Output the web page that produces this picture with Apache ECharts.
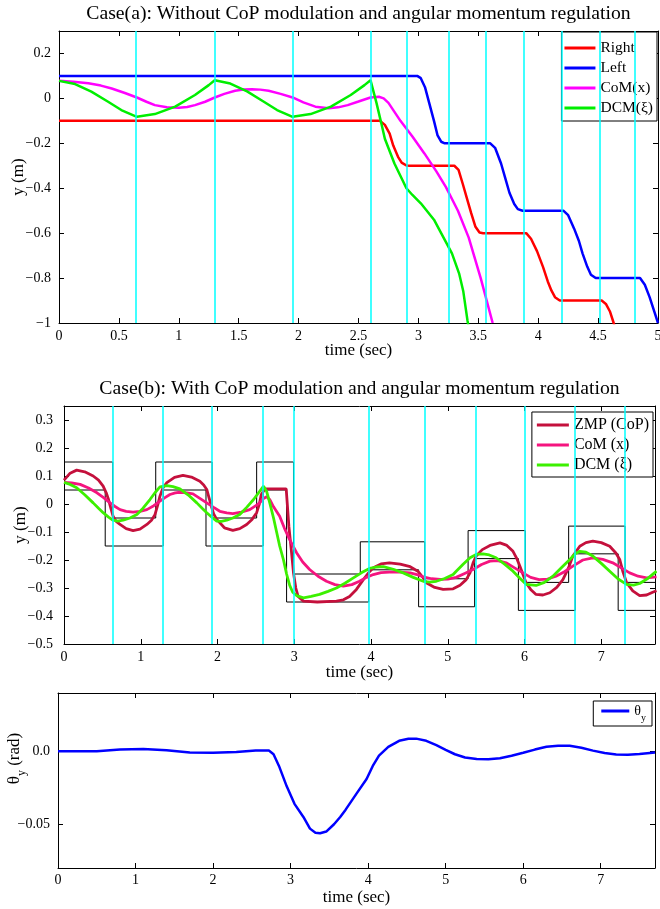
<!DOCTYPE html>
<html>
<head>
<meta charset="utf-8">
<script src="https://cdn.jsdelivr.net/npm/echarts@6/dist/echarts.min.js"></script>
<style>
  html, body { margin: 0; background: #fff; }
  #chart { width: 660px; height: 909px; }
</style>
</head>
<body>
<div id="chart"></div>
<script>
// ---------- Case (a) ----------
const stepTimesA = [0.643, 1.299, 1.949, 2.6, 2.9, 3.249, 3.565, 3.885, 4.2, 4.513, 4.812]
const rightA = [[0,-0.1],[2.68,-0.1],[2.72,-0.118],[2.76,-0.157],[2.79,-0.21],[2.83,-0.26],[2.86,-0.286],[2.9,-0.299],[2.93,-0.3],
  [3.3,-0.3],[3.335,-0.318],[3.37,-0.38],[3.405,-0.445],[3.44,-0.51],[3.475,-0.57],[3.51,-0.597],[3.54,-0.6],
  [3.9,-0.6],[3.94,-0.625],[3.99,-0.68],[4.04,-0.75],[4.08,-0.815],[4.11,-0.855],[4.14,-0.885],[4.18,-0.9],
  [4.53,-0.9],[4.565,-0.915],[4.6,-0.95],[4.63,-1.0],[4.65,-1.04]]
const leftA = [[0,0.1],[2.99,0.1],[3.02,0.09],[3.055,0.05],[3.09,-0.02],[3.13,-0.1],[3.16,-0.165],[3.19,-0.193],[3.22,-0.2],
  [3.6,-0.2],[3.64,-0.22],[3.69,-0.29],[3.725,-0.355],[3.76,-0.42],[3.8,-0.47],[3.83,-0.493],[3.87,-0.5],
  [4.21,-0.5],[4.25,-0.52],[4.3,-0.58],[4.34,-0.635],[4.37,-0.69],[4.41,-0.75],[4.44,-0.785],[4.48,-0.8],
  [4.85,-0.8],[4.89,-0.83],[4.93,-0.885],[4.97,-0.95],[5.0,-1.0]]
const comA = [[0,0.078],[0.12,0.074],[0.245,0.067],[0.35,0.057],[0.44,0.044],[0.55,0.024],[0.65,0.004],[0.73,-0.015],
  [0.8,-0.03],[0.9,-0.039],[1.0,-0.042],[1.07,-0.038],[1.135,-0.03],[1.22,-0.015],[1.3,0.004],[1.38,0.02],[1.47,0.034],
  [1.54,0.04],[1.61,0.041],[1.68,0.039],[1.75,0.034],[1.85,0.02],[1.95,0.004],[2.04,-0.018],[2.14,-0.037],[2.25,-0.044],
  [2.33,-0.04],[2.41,-0.03],[2.5,-0.014],[2.6,0.004],[2.67,0.007],[2.71,0.0],[2.75,-0.02],[2.8,-0.06],[2.85,-0.1],
  [2.95,-0.17],[3.05,-0.245],[3.15,-0.325],[3.23,-0.395],[3.33,-0.5],[3.42,-0.62],[3.52,-0.8],[3.62,-1.0]]
const dcmA = [[0,0.078],[0.134,0.064],[0.27,0.03],[0.41,-0.015],[0.52,-0.052],[0.65,-0.082],[0.8,-0.07],[0.97,-0.037],
  [1.135,0.015],[1.25,0.059],[1.3,0.081],[1.43,0.066],[1.57,0.031],[1.71,-0.015],[1.82,-0.052],[1.95,-0.082],
  [2.1,-0.07],[2.27,-0.037],[2.435,0.015],[2.55,0.059],[2.6,0.081],[2.65,-0.02],[2.69,-0.11],[2.72,-0.18],
  [2.8,-0.29],[2.9,-0.4],[2.95,-0.43],[3.02,-0.467],[3.13,-0.54],[3.21,-0.62],[3.28,-0.69],[3.34,-0.78],
  [3.375,-0.86],[3.41,-0.99],[3.42,-1.02]]

// ---------- Case (b) ----------
const stepTimesB = [0.635, 1.29, 1.93, 2.59, 2.99, 3.97, 4.7, 5.36, 6.0, 6.66, 7.31]
const upperB = [[0,0.15],[0.635,0.15],[0.635,-0.05],[1.195,-0.05],[1.195,0.15],[1.93,0.15],[1.93,-0.05],[2.51,-0.05],
  [2.51,0.15],[2.99,0.15],[2.99,-0.25],[3.86,-0.25],[3.86,-0.135],[4.7,-0.135],[4.7,-0.267],[5.265,-0.267],
  [5.265,-0.095],[6.01,-0.095],[6.01,-0.28],[6.575,-0.28],[6.575,-0.079],[7.31,-0.079],[7.31,-0.28],[7.7,-0.28]]
const lowerB = [[0,0.05],[0.537,0.05],[0.537,-0.15],[1.293,-0.15],[1.293,0.05],[1.85,0.05],[1.85,-0.15],[2.595,-0.15],
  [2.595,0.05],[2.9,0.05],[2.9,-0.35],[3.97,-0.35],[3.97,-0.235],[4.62,-0.235],[4.62,-0.367],[5.35,-0.367],
  [5.35,-0.195],[5.92,-0.195],[5.92,-0.38],[6.66,-0.38],[6.66,-0.178],[7.22,-0.178],[7.22,-0.38],[7.7,-0.38]]
const zmpB = [[0,0.085],[0.08,0.11],[0.165,0.121],[0.27,0.115],[0.38,0.1],[0.45,0.085],[0.51,0.064],[0.55,0.04],
  [0.58,0.016],[0.61,-0.015],[0.64,-0.044],[0.68,-0.062],[0.73,-0.073],[0.81,-0.088],[0.9,-0.095],[0.99,-0.09],
  [1.08,-0.073],[1.14,-0.058],[1.185,-0.038],[1.22,-0.005],[1.25,0.028],[1.29,0.058],[1.34,0.076],[1.44,0.095],
  [1.55,0.102],[1.66,0.096],[1.77,0.081],[1.82,0.068],[1.86,0.052],[1.89,0.022],[1.92,-0.008],[1.95,-0.035],
  [1.99,-0.055],[2.09,-0.085],[2.2,-0.094],[2.29,-0.088],[2.38,-0.073],[2.45,-0.055],[2.51,-0.031],[2.545,0.0],
  [2.57,0.034],[2.62,0.054],[2.895,0.054],[2.93,-0.08],[2.96,-0.16],[2.99,-0.246],[3.02,-0.3],[3.05,-0.33],
  [3.12,-0.347],[3.3,-0.35],[3.55,-0.347],[3.64,-0.342],[3.72,-0.33],[3.81,-0.305],[3.9,-0.27],[3.97,-0.245],
  [4.03,-0.228],[4.13,-0.214],[4.24,-0.21],[4.38,-0.215],[4.51,-0.224],[4.61,-0.24],[4.67,-0.26],[4.72,-0.281],
  [4.83,-0.298],[4.94,-0.305],[5.07,-0.303],[5.16,-0.29],[5.24,-0.27],[5.29,-0.246],[5.33,-0.21],[5.37,-0.186],
  [5.45,-0.163],[5.55,-0.148],[5.68,-0.139],[5.77,-0.148],[5.85,-0.169],[5.9,-0.195],[5.94,-0.222],[6.02,-0.281],
  [6.08,-0.305],[6.15,-0.323],[6.24,-0.325],[6.33,-0.317],[6.42,-0.298],[6.5,-0.27],[6.57,-0.23],[6.63,-0.186],
  [6.72,-0.151],[6.8,-0.138],[6.89,-0.133],[7.0,-0.138],[7.11,-0.151],[7.19,-0.175],[7.24,-0.198],[7.28,-0.24],
  [7.33,-0.281],[7.41,-0.31],[7.5,-0.327],[7.59,-0.325],[7.67,-0.315],[7.72,-0.31]]
const comB = [[0,0.077],[0.1,0.075],[0.21,0.07],[0.32,0.057],[0.43,0.04],[0.52,0.022],[0.6,0.004],[0.66,-0.008],
  [0.73,-0.02],[0.81,-0.026],[0.9,-0.029],[0.99,-0.026],[1.08,-0.02],[1.17,-0.006],[1.25,0.01],[1.31,0.022],
  [1.38,0.034],[1.45,0.04],[1.51,0.042],[1.6,0.04],[1.68,0.036],[1.77,0.02],[1.86,0.004],[1.95,-0.012],
  [2.03,-0.026],[2.12,-0.032],[2.2,-0.034],[2.31,-0.029],[2.42,-0.02],[2.5,-0.006],[2.55,0.004],[2.6,0.02],
  [2.64,0.026],[2.68,0.016],[2.73,-0.01],[2.81,-0.044],[2.87,-0.085],[2.94,-0.127],[3.03,-0.174],[3.11,-0.207],
  [3.2,-0.234],[3.31,-0.258],[3.42,-0.276],[3.53,-0.288],[3.64,-0.293],[3.75,-0.288],[3.85,-0.276],[3.94,-0.262],
  [4.03,-0.252],[4.13,-0.245],[4.24,-0.243],[4.38,-0.243],[4.51,-0.246],[4.6,-0.252],[4.68,-0.26],[4.79,-0.267],
  [4.9,-0.269],[5.0,-0.268],[5.11,-0.262],[5.22,-0.248],[5.33,-0.234],[5.44,-0.216],[5.55,-0.204],[5.65,-0.202],
  [5.76,-0.21],[5.87,-0.228],[5.98,-0.246],[6.08,-0.262],[6.19,-0.27],[6.3,-0.268],[6.41,-0.258],[6.52,-0.242],
  [6.63,-0.222],[6.76,-0.2],[6.89,-0.192],[7.02,-0.198],[7.15,-0.21],[7.26,-0.228],[7.37,-0.246],[7.48,-0.258],
  [7.59,-0.264],[7.72,-0.26]]
const dcmB = [[0,0.077],[0.08,0.07],[0.165,0.058],[0.27,0.033],[0.38,0.004],[0.45,-0.015],[0.51,-0.031],[0.58,-0.047],
  [0.64,-0.058],[0.7,-0.061],[0.77,-0.058],[0.86,-0.05],[0.95,-0.0375],[1.03,-0.015],[1.12,0.016],[1.19,0.042],
  [1.25,0.061],[1.34,0.066],[1.42,0.062],[1.51,0.054],[1.62,0.032],[1.73,0.004],[1.8,-0.015],[1.86,-0.031],
  [1.93,-0.048],[1.99,-0.061],[2.05,-0.062],[2.12,-0.058],[2.2,-0.05],[2.29,-0.0375],[2.38,-0.012],[2.47,0.016],
  [2.54,0.042],[2.6,0.064],[2.64,0.045],[2.68,0.005],[2.73,-0.05],[2.77,-0.1],[2.81,-0.15],[2.86,-0.2],[2.9,-0.25],
  [2.94,-0.29],[2.98,-0.315],[3.03,-0.327],[3.12,-0.335],[3.22,-0.33],[3.33,-0.323],[3.44,-0.312],[3.55,-0.3],
  [3.66,-0.283],[3.77,-0.264],[3.88,-0.245],[3.98,-0.23],[4.07,-0.225],[4.16,-0.224],[4.29,-0.233],[4.42,-0.246],
  [4.55,-0.262],[4.68,-0.276],[4.76,-0.279],[4.85,-0.276],[4.96,-0.266],[5.07,-0.252],[5.11,-0.24],[5.2,-0.215],
  [5.29,-0.192],[5.37,-0.18],[5.46,-0.178],[5.54,-0.182],[5.63,-0.192],[5.74,-0.215],[5.85,-0.24],[5.94,-0.265],
  [6.02,-0.287],[6.15,-0.291],[6.26,-0.28],[6.37,-0.258],[6.48,-0.228],[6.59,-0.198],[6.66,-0.178],[6.72,-0.169],
  [6.8,-0.172],[6.89,-0.186],[7.0,-0.212],[7.11,-0.24],[7.22,-0.268],[7.33,-0.287],[7.42,-0.29],[7.5,-0.284],
  [7.61,-0.265],[7.72,-0.24]]

// ---------- body pitch ----------
const thetaY = [[0,0],[0.5,0.0],[0.8,0.0012],[1.1,0.0016],[1.4,0.0008],[1.7,-0.0008],[2.0,-0.001],[2.3,-0.0005],
  [2.55,0.0005],[2.72,0.0005],[2.78,-0.002],[2.85,-0.01],[2.95,-0.024],[3.05,-0.036],[3.165,-0.045],[3.25,-0.053],
  [3.32,-0.0558],[3.38,-0.0562],[3.46,-0.055],[3.56,-0.05],[3.64,-0.045],[3.71,-0.04],[3.85,-0.029],[3.98,-0.019],
  [4.06,-0.01],[4.14,-0.003],[4.26,0.003],[4.4,0.0072],[4.52,0.0086],[4.62,0.0087],[4.75,0.0072],[4.88,0.0042],
  [5.0,0.001],[5.12,-0.002],[5.25,-0.0042],[5.4,-0.0052],[5.55,-0.0055],[5.7,-0.0048],[5.85,-0.003],[6.0,-0.001],
  [6.15,0.0012],[6.3,0.0032],[6.45,0.0039],[6.6,0.0038],[6.75,0.0025],[6.9,0.0005],[7.05,-0.0012],[7.2,-0.0021],
  [7.35,-0.0023],[7.5,-0.0018],[7.7,-0.0008]]
const thetaTicks = [-0.05, 0]

const serif = 'Liberation Serif'
const minus = v => String(v).replace('-', '\u2212')

const chart = echarts.init(document.getElementById('chart'))

function xAxes(g, max, interval, opt) {
  const base = {
    type: 'value', gridIndex: g, min: 0, max: max, interval: interval,
    splitLine: {show: false},
    axisLine: {show: true, onZero: false, lineStyle: {color: '#000', width: 1}},
    axisTick: {inside: true, length: 5, lineStyle: {color: '#000'}}
  }
  return [
    Object.assign({}, base, {
      position: 'bottom', name: 'time (sec)', nameLocation: 'middle', nameGap: opt.nameGap,
      nameMoveOverlap: false,
      nameTextStyle: {fontFamily: serif, fontSize: 17, color: '#000'},
      axisLabel: {fontFamily: serif, fontSize: 14, color: '#000', margin: opt.margin,
        showMaxLabel: opt.showMax, formatter: minus}
    }),
    Object.assign({}, base, {position: 'top', axisLabel: {show: false}})
  ]
}

function yAxes(g, min, max, opt) {
  const base = {
    type: 'value', gridIndex: g, min: min, max: max, interval: opt.interval,
    splitLine: {show: false},
    axisLine: {show: true, onZero: false, lineStyle: {color: '#000', width: 1}},
    axisTick: {inside: true, length: 5, lineStyle: {color: '#000'}, customValues: opt.ticks}
  }
  return [
    Object.assign({}, base, {
      position: 'left', name: opt.name, nameLocation: 'middle', nameGap: opt.nameGap,
      nameMoveOverlap: false,
      nameTextStyle: Object.assign({fontFamily: serif, fontSize: 17, color: '#000'}, opt.nameStyle || {}),
      axisLabel: {fontFamily: serif, fontSize: 14, color: '#000', margin: opt.margin,
        showMaxLabel: opt.ticks ? null : false, customValues: opt.ticks, formatter: opt.fmt || minus}
    }),
    Object.assign({}, base, {position: 'right', axisLabel: {show: false}})
  ]
}

function curve(name, data, color, width, g) {
  return {
    name: name, type: 'line', data: data, xAxisIndex: 2 * g, yAxisIndex: 2 * g,
    symbol: 'none', showSymbol: false, z: 3,
    lineStyle: {color: color, width: width}, itemStyle: {color: color}
  }
}

function steps(data, g) {
  return {
    type: 'line', data: data, xAxisIndex: 2 * g, yAxisIndex: 2 * g, symbol: 'none', z: 2,
    silent: true, lineStyle: {color: '#000', width: 1}
  }
}

function cyan(times, g) {
  return {
    type: 'line', data: [], xAxisIndex: 2 * g, yAxisIndex: 2 * g, z: 1, silent: true,
    markLine: {
      silent: true, symbol: ['none', 'none'], animation: false, label: {show: false},
      lineStyle: {color: '#00ffff', width: 1.5, type: 'solid', opacity: 1},
      emphasis: {disabled: true},
      data: times.map(t => ({xAxis: t}))
    }
  }
}

const legendBase = {
  orient: 'vertical', icon: 'rect', itemHeight: 3, itemGap: 4,
  borderColor: '#000', borderWidth: 1, backgroundColor: '#fff', borderRadius: 0,
  selectedMode: false
}

chart.setOption({
  animation: false,
  backgroundColor: '#fff',
  grid: [
    {left: 59, top: 31, width: 599, height: 292, outerBoundsMode: 'none'},
    {left: 64, top: 406, width: 591, height: 238, outerBoundsMode: 'none'},
    {left: 58, top: 693, width: 597, height: 175, outerBoundsMode: 'none'}
  ],
  xAxis: [
    ...xAxes(0, 5, 0.5, {nameGap: 19, margin: 6, showMax: true}),
    ...xAxes(1, 7.7, 1, {nameGap: 20, margin: 6, showMax: false}),
    ...xAxes(2, 7.7, 1, {nameGap: 21, margin: 5, showMax: false})
  ],
  yAxis: [
    ...yAxes(0, -1, 0.3, {interval: 0.2, name: 'y (m)', nameGap: 32, margin: 8}),
    ...yAxes(1, -0.5, 0.35, {interval: 0.1, name: 'y (m)', nameGap: 35, margin: 11}),
    ...yAxes(2, -0.08, 0.04, {
      ticks: thetaTicks, name: '{t|θ}{s|y}{t| (rad)}', nameGap: 30, margin: 8,
      fmt: v => (Number(v) === 0 ? '0.0' : minus(v)),
      nameStyle: {padding: [0, 0, 0, 44], rich: {
        t: {fontFamily: serif, fontSize: 17, color: '#000', lineHeight: 26},
        s: {fontFamily: serif, fontSize: 12, color: '#000', lineHeight: 26, verticalAlign: 'bottom'}
      }}
    })
  ],
  legend: [
    Object.assign({}, legendBase, {
      data: ['Right', 'Left', 'CoM(x)', 'DCM(ξ)'], right: 3, top: 32, itemWidth: 31,
      padding: [8, 4, 5, 3], textStyle: {fontFamily: serif, fontSize: 15.5, color: '#000'}
    }),
    Object.assign({}, legendBase, {
      data: ['ZMP (CoP)', 'CoM (x)', 'DCM (ξ)'], right: 7, top: 412, itemWidth: 32,
      padding: [5, 4, 4, 5], textStyle: {fontFamily: serif, fontSize: 16, color: '#000'}
    }),
    Object.assign({}, legendBase, {
      data: ['θy'], right: 8, top: 701, itemWidth: 28, padding: [3, 6, 3, 8],
      formatter: () => '{t|θ}{s|y}',
      textStyle: {fontFamily: serif, color: '#000', rich: {
        t: {fontFamily: serif, fontSize: 14, color: '#000', lineHeight: 24},
        s: {fontFamily: serif, fontSize: 10, color: '#000', lineHeight: 24, verticalAlign: 'bottom'}
      }}
    })
  ],
  graphic: [
    {type: 'text', x: 358.5, y: 14, style: {text: 'Case(a): Without CoP modulation and angular momentum regulation',
      font: '19.7px "Liberation Serif"', fill: '#000', align: 'center', verticalAlign: 'middle'}},
    {type: 'text', x: 359.5, y: 389, style: {text: 'Case(b): With CoP modulation and angular momentum regulation',
      font: '19.7px "Liberation Serif"', fill: '#000', align: 'center', verticalAlign: 'middle'}}
  ],
  series: [
    cyan(stepTimesA, 0),
    curve('Right', rightA, '#ff0000', 2.5, 0),
    curve('Left', leftA, '#0000ff', 2.5, 0),
    curve('CoM(x)', comA, '#ff00ff', 2.5, 0),
    curve('DCM(ξ)', dcmA, '#00ee00', 2.5, 0),

    cyan(stepTimesB, 1),
    steps(upperB, 1),
    steps(lowerB, 1),
    curve('ZMP (CoP)', zmpB, '#c4103c', 2.8, 1),
    curve('CoM (x)', comB, '#f5147f', 2.8, 1),
    curve('DCM (ξ)', dcmB, '#3cf000', 2.8, 1),

    curve('θy', thetaY, '#0000ff', 2.5, 2)
  ]
})

window.onresize = function () {
  chart.resize()
}
</script>
</body>
</html>
